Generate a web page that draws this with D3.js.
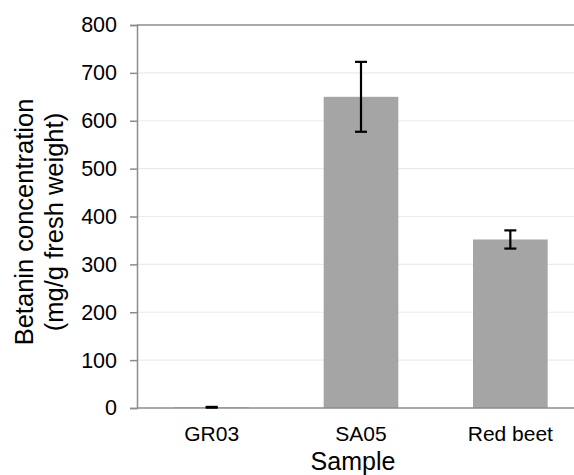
<!DOCTYPE html>
<html>
<head>
<meta charset="utf-8">
<script src="https://cdn.jsdelivr.net/npm/d3@7"></script>
<style>
  body { margin: 0; background: #fff; }
  svg text { font-family: "Liberation Sans", Arial, sans-serif; fill: #000; }
</style>
</head>
<body>
<div id="chart"><svg width="574" height="475"></svg></div>
<script>
const samples = ["GR03", "SA05", "Red beet"];
const betanin = [1.5, 650, 352];
const errors = [0.8, 73, 19];
const yTicks = [0, 100, 200, 300, 400, 500, 600, 700, 800];

const svg = d3.select("#chart svg");

const plotLeft = 137, plotRight = 585, plotTop = 25, plotBottom = 408;

const x = d3.scaleBand()
    .domain(samples)
    .range([plotLeft, plotRight])
    .paddingInner(0.5)
    .paddingOuter(0.25);

const y = d3.scaleLinear()
    .domain([0, 800])
    .range([plotBottom, plotTop]);

// grid lines
svg.append("g")
    .selectAll("line")
    .data(yTicks.filter(d => d > 0 && d < 800))
    .join("line")
    .attr("x1", plotLeft)
    .attr("x2", 574)
    .attr("y1", d => y(d))
    .attr("y2", d => y(d))
    .attr("stroke", "#ebebeb")
    .attr("stroke-width", 1.2);

// top border
svg.append("line")
    .attr("x1", plotLeft).attr("x2", 574)
    .attr("y1", y(800)).attr("y2", y(800))
    .attr("stroke", "#8c8c8c").attr("stroke-width", 1.5);

// bars
svg.append("g")
    .selectAll("rect")
    .data(samples)
    .join("rect")
    .attr("x", d => x(d))
    .attr("width", x.bandwidth())
    .attr("y", (d, i) => y(betanin[i]))
    .attr("height", (d, i) => y(0) - y(betanin[i]))
    .attr("fill", "#a5a5a5");

// y axis
const yAxis = svg.append("g")
    .attr("transform", `translate(${plotLeft},0)`)
    .call(d3.axisLeft(y).tickValues(yTicks).tickSize(7).tickPadding(13));
yAxis.select(".domain").attr("stroke", "#8c8c8c").attr("stroke-width", 1.5);
yAxis.selectAll(".tick line").attr("stroke", "#8c8c8c").attr("stroke-width", 1.5);
yAxis.selectAll(".tick text")
    .attr("font-size", 21.5)
    .attr("font-family", "Liberation Sans, Arial, sans-serif")
    .attr("fill", "#000");

// x axis
const xAxis = svg.append("g")
    .attr("transform", `translate(0,${plotBottom})`)
    .call(d3.axisBottom(x).tickSize(0).tickPadding(18));
xAxis.select(".domain").attr("d", `M${plotLeft},0H574`).attr("stroke", "#8c8c8c").attr("stroke-width", 1.5);
xAxis.selectAll(".tick text")
    .attr("font-size", 21)
    .attr("font-family", "Liberation Sans, Arial, sans-serif")
    .attr("fill", "#000");

// error bars
const eb = svg.append("g")
    .selectAll("g")
    .data(samples)
    .join("g")
    .attr("stroke", "#000")
    .attr("stroke-width", 2.2);
eb.append("line")
    .attr("x1", d => x(d) + x.bandwidth() / 2)
    .attr("x2", d => x(d) + x.bandwidth() / 2)
    .attr("y1", (d, i) => y(betanin[i] + errors[i]))
    .attr("y2", (d, i) => y(betanin[i] - errors[i]));
eb.append("line")
    .attr("x1", d => x(d) + x.bandwidth() / 2 - 6)
    .attr("x2", d => x(d) + x.bandwidth() / 2 + 6)
    .attr("y1", (d, i) => y(betanin[i] + errors[i]))
    .attr("y2", (d, i) => y(betanin[i] + errors[i]));
eb.append("line")
    .attr("x1", d => x(d) + x.bandwidth() / 2 - 6)
    .attr("x2", d => x(d) + x.bandwidth() / 2 + 6)
    .attr("y1", (d, i) => y(betanin[i] - errors[i]))
    .attr("y2", (d, i) => y(betanin[i] - errors[i]));

// axis titles
svg.append("text")
    .attr("x", 353)
    .attr("y", 469.5)
    .attr("text-anchor", "middle")
    .attr("font-size", 25)
    .text("Sample");

const yTitle = svg.append("text")
    .attr("transform", "translate(0,222) rotate(-90)")
    .attr("text-anchor", "middle")
    .attr("font-size", 25.5);
yTitle.append("tspan").attr("x", 0).attr("y", 33).text("Betanin concentration");
yTitle.append("tspan").attr("x", 0).attr("y", 63).text("(mg/g fresh weight)");
</script>
</body>
</html>
